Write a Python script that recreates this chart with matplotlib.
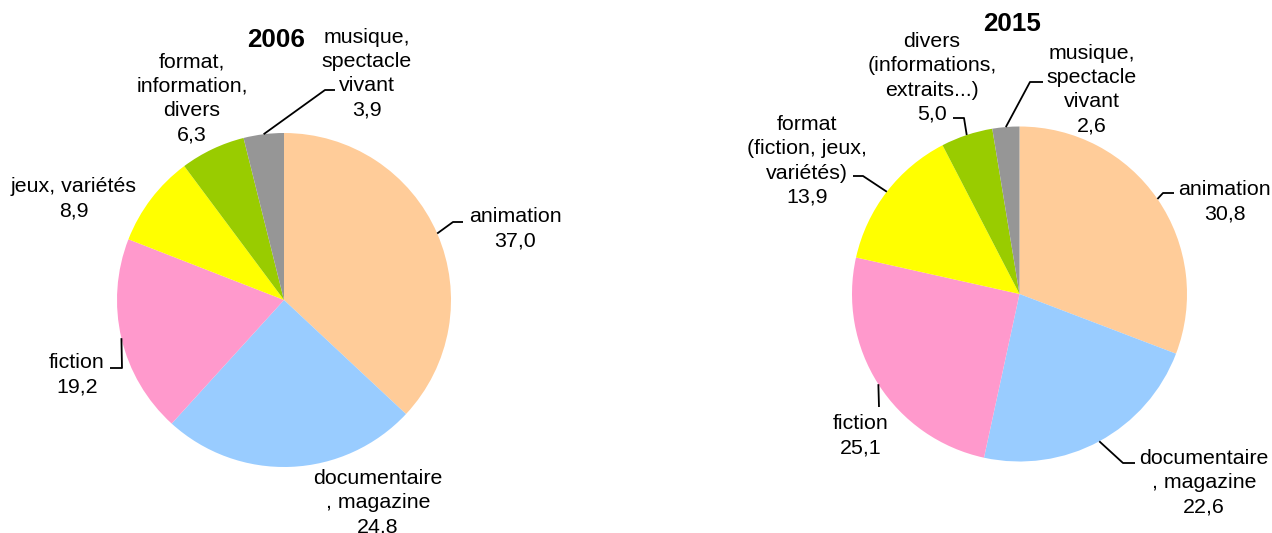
import matplotlib
matplotlib.use('Agg')
import matplotlib.pyplot as plt
import numpy as np

W, H = 1272, 533

# ---- data ----
cats_2006 = ["animation", "documentaire\n, magazine", "fiction", "jeux, variétés",
             "format,\ninformation,\ndivers", "musique,\nspectacle\nvivant"]
vals_2006 = [37.0, 24.8, 19.2, 8.9, 6.3, 3.9]

cats_2015 = ["animation", "documentaire\n, magazine", "fiction",
             "format\n(fiction, jeux,\nvariétés)", "divers\n(informations,\nextraits...)",
             "musique,\nspectacle\nvivant"]
vals_2015 = [30.8, 22.6, 25.1, 13.9, 5.0, 2.6]

colors = ["#FFCC99", "#99CCFF", "#FF99CC", "#FFFF00", "#99CC00", "#969696"]

# ---- layout (image pixel coords, y down) ----
layout_2006 = dict(
    center=(284, 300), radius=167, title=(276, 40),
    labels=[
        ((515, 226.5), [(453, 222), (463, 222)]),
        ((378, 501), None),
        ((77, 372.5), [(122, 368), (110, 368)]),
        ((74, 197), None),
        ((192, 96.5), None),
        ((367, 71.5), [(325, 90), (335, 90)]),
    ])
layout_2015 = dict(
    center=(1019.5, 294), radius=167.5, title=(1012, 24),
    labels=[
        ((1224.5, 200), [(1163, 193), (1174, 193)]),
        ((1204, 481), [(1123, 463), (1135, 463)]),
        ((861, 434), [(879, 407)]),
        ((807, 159), [(863, 176), (853, 176)]),
        ((932, 76), [(964, 118), (953, 118)]),
        ((1092, 87.5), [(1030, 82), (1043, 82)]),
    ])

FONT = ['Liberation Sans', 'DejaVu Sans']
FS = 15.4
LS = 24.3

fig = plt.figure(figsize=(W / 100, H / 100), dpi=100)
ax = fig.add_axes([0, 0, 1, 1])


def draw_label(text, value, x, yc):
    lines = text.split("\n") + [f"{value:.1f}".replace(".", ",")]
    n = len(lines)
    for i, line in enumerate(lines):
        yv = yc + (i - (n - 1) / 2) * LS
        ax.text(x, H - (yv + 7.5), line, ha='center', va='baseline',
                fontsize=FS, family=FONT, color='black')


def draw_pie(cats, vals, year, lay):
    cx, cy = lay['center']
    r = lay['radius']
    wedges, _ = ax.pie(vals, colors=colors, startangle=90, counterclock=False,
                       radius=r, center=(cx, H - cy),
                       wedgeprops=dict(linewidth=0))
    for w, cat, v, (pos, leader) in zip(wedges, cats, vals, lay['labels']):
        if leader:
            mid = np.deg2rad((w.theta1 + w.theta2) / 2)
            sx = cx + r * np.cos(mid)
            sy = (H - cy) + r * np.sin(mid)
            xs = [sx] + [p[0] for p in leader]
            ys = [sy] + [H - p[1] for p in leader]
            ax.plot(xs, ys, color='black', lw=1.3, solid_capstyle='butt')
        draw_label(cat, v, pos[0], pos[1])
    tx, ty = lay['title']
    ax.text(tx, H - ty, year, ha='center', va='center', fontsize=18.7,
            fontweight='bold', family=FONT)


draw_pie(cats_2006, vals_2006, "2006", layout_2006)
draw_pie(cats_2015, vals_2015, "2015", layout_2015)

ax.set_xlim(0, W)
ax.set_ylim(0, H)
ax.set_aspect('equal')
ax.axis('off')

fig.savefig('out.png', dpi=100)
